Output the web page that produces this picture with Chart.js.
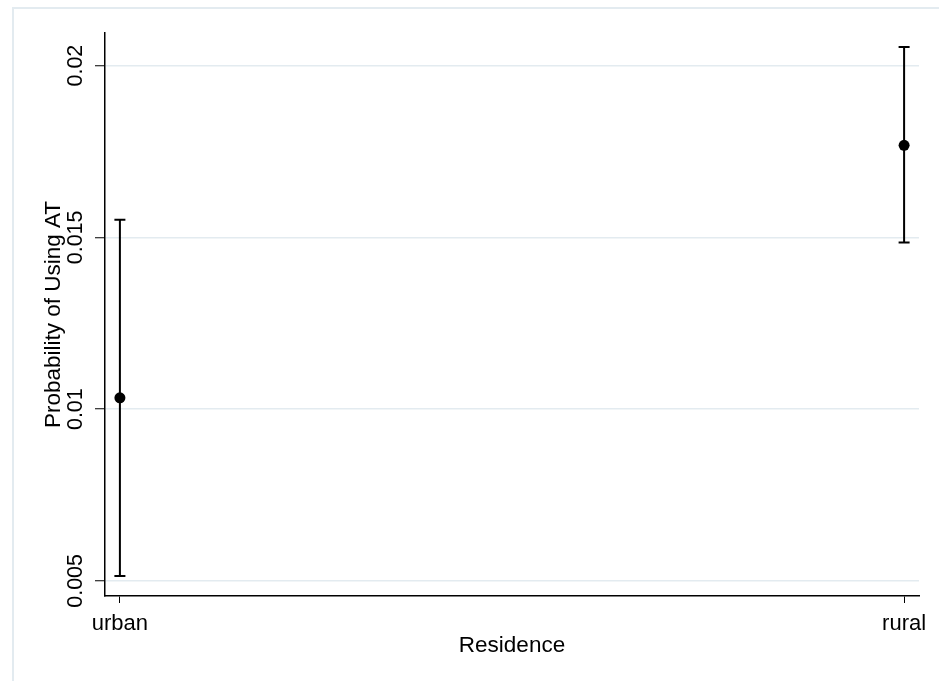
<!DOCTYPE html>
<html>
<head>
<meta charset="utf-8">
<script src="https://cdn.jsdelivr.net/npm/chart.js@4"></script>
<style>
  html, body { margin: 0; padding: 0; background: #fff; }
  #wrap { width: 939px; height: 681px; }
</style>
</head>
<body>
<div id="wrap"><canvas id="chart" width="939" height="681"></canvas></div>
<script>
const categories = ['urban', 'rural'];
const xPos = [0, 1];
const estimate = [0.01033, 0.01768];
const lower = [0.00514, 0.01485];
const upper = [0.01551, 0.02054];
const yTicks = [0.005, 0.01, 0.015, 0.02];

const FONT = 'Liberation Sans, Arial, sans-serif';

// light frame round the graph region, like Stata's
const frame = {
  id: 'frame',
  beforeDraw(chart) {
    const c = chart.ctx;
    c.save();
    c.fillStyle = '#fff';
    c.fillRect(0, 0, chart.width, chart.height);
    c.strokeStyle = '#e3ebf0';
    c.lineWidth = 2;
    c.beginPath();
    c.moveTo(13, chart.height);
    c.lineTo(13, 8);
    c.lineTo(chart.width, 8);
    c.stroke();
    c.restore();
  }
};

// confidence intervals with caps
const errorBars = {
  id: 'errorBars',
  beforeDatasetsDraw(chart) {
    const c = chart.ctx;
    const xs = chart.scales.x, ys = chart.scales.y;
    c.save();
    c.strokeStyle = '#000';
    c.lineWidth = 2;
    xPos.forEach((v, i) => {
      const x = xs.getPixelForValue(v);
      const yl = ys.getPixelForValue(lower[i]);
      const yh = ys.getPixelForValue(upper[i]);
      c.beginPath();
      c.moveTo(x, yl); c.lineTo(x, yh);
      c.moveTo(x - 5.5, yl); c.lineTo(x + 5.5, yl);
      c.moveTo(x - 5.5, yh); c.lineTo(x + 5.5, yh);
      c.stroke();
    });
    c.restore();
  }
};

new Chart(document.getElementById('chart').getContext('2d'), {
  type: 'scatter',
  data: {
    datasets: [{
      data: xPos.map((x, i) => ({ x: x, y: estimate[i] })),
      pointRadius: 5.5,
      pointBackgroundColor: '#000',
      pointBorderColor: '#000',
      pointBorderWidth: 0
    }]
  },
  plugins: [frame, errorBars],
  options: {
    responsive: false,
    animation: false,
    layout: { padding: { top: 33, right: 20, bottom: 0, left: 0 } },
    plugins: { legend: { display: false }, tooltip: { enabled: false } },
    scales: {
      x: {
        type: 'linear',
        min: -0.019,
        max: 1.019,
        afterBuildTicks: s => { s.ticks = xPos.map(v => ({ value: v })); },
        afterFit: s => { s.height = 85; },
        grid: { drawOnChartArea: false, drawTicks: true, tickLength: 7, tickColor: '#000', tickWidth: 1 },
        border: { color: '#000', width: 1.5 },
        ticks: {
          padding: 8,
          maxRotation: 0,
          color: '#000',
          font: { family: FONT, size: 22 },
          callback: v => categories[xPos.indexOf(v)]
        },
        title: {
          display: true,
          text: 'Residence',
          color: '#000',
          font: { family: FONT, size: 22.5 },
          padding: { top: 0, bottom: 22 }
        }
      },
      y: {
        min: 0.00456,
        max: 0.02095,
        afterBuildTicks: s => { s.ticks = yTicks.map(v => ({ value: v })); },
        afterFit: s => { s.width = 105; },
        grid: { color: '#e3ebf0', lineWidth: 1.5, drawTicks: true, tickLength: 10, tickColor: '#000', tickWidth: 1 },
        border: { color: '#000', width: 1.5 },
        ticks: {
          minRotation: 90,
          maxRotation: 90,
          crossAlign: 'center',
          padding: -8,
          color: '#000',
          font: { family: FONT, size: 21.5 },
          callback: v => String(v)
        },
        title: {
          display: true,
          text: 'Probability of Using AT',
          color: '#000',
          font: { family: FONT, size: 22.5 },
          padding: { top: 40, bottom: 0 }
        }
      }
    }
  }
});
</script>
</body>
</html>
